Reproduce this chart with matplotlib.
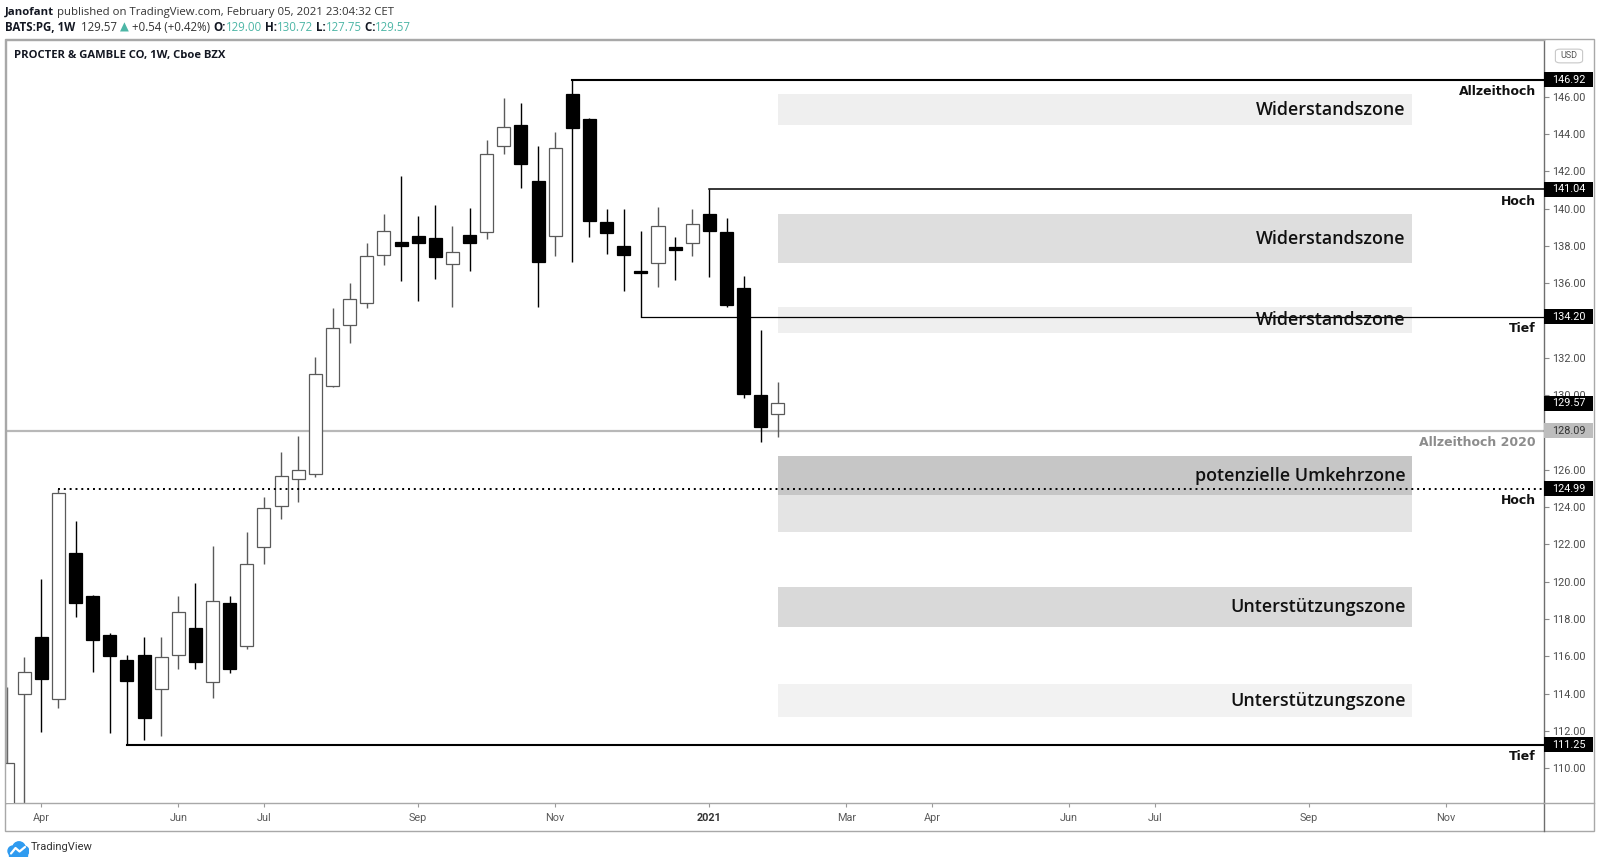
import numpy as np
import pandas as pd
import matplotlib
matplotlib.use("Agg")
import matplotlib.pyplot as plt
from matplotlib.patches import Rectangle, Circle, FancyBboxPatch
from matplotlib.lines import Line2D

# ---------------- data ----------------
first_week = "2020-03-23"          # weekly bars (Mondays)
opens  = [103.00, 113.97, 117.05, 113.69, 121.52, 119.24, 117.14, 115.80, 116.06, 114.22,
          116.06, 117.49, 114.62, 118.83, 116.56, 121.84, 124.07, 125.50, 125.77, 130.51,
          133.74, 134.96, 137.51, 138.23, 138.53, 138.44, 137.03, 138.58, 138.76, 143.36,
          144.48, 141.50, 138.55, 146.15, 144.79, 139.30, 138.01, 136.68, 137.07, 137.96,
          138.17, 139.69, 138.76, 135.73, 130.01, 129.00]
highs  = [114.37, 115.97, 120.12, 124.99, 123.27, 119.30, 117.26, 116.06, 117.05, 117.05,
          119.24, 119.94, 121.91, 119.24, 122.66, 124.55, 126.93, 127.81, 132.06, 134.69,
          136.03, 138.14, 139.71, 141.75, 139.60, 140.19, 139.08, 140.01, 143.68, 145.91,
          145.68, 143.36, 144.13, 146.92, 144.85, 139.96, 139.96, 138.80, 140.10, 138.50,
          139.96, 141.04, 139.48, 136.39, 133.49, 130.72]
lows   = [98.00, 106.00, 111.92, 113.20, 118.12, 115.17, 111.86, 111.25, 111.51, 111.74,
          115.29, 115.29, 113.78, 115.12, 116.37, 120.93, 123.37, 124.25, 125.59, 130.45,
          132.78, 134.69, 136.97, 136.14, 135.06, 136.21, 134.74, 136.67, 138.35, 142.93,
          141.09, 134.71, 137.48, 137.16, 138.50, 137.55, 135.60, 134.20, 135.78, 136.17,
          137.46, 136.31, 134.71, 129.83, 127.50, 127.75]
closes = [110.26, 115.13, 114.76, 124.73, 118.83, 116.87, 116.01, 114.69, 112.67, 115.97,
          118.39, 115.69, 118.98, 115.29, 120.93, 123.93, 125.68, 125.98, 131.13, 133.58,
          135.13, 137.46, 138.80, 137.99, 138.17, 137.39, 137.66, 138.14, 142.93, 144.39,
          142.39, 137.12, 143.23, 144.30, 139.33, 138.67, 137.51, 136.56, 139.07, 137.78,
          139.17, 138.82, 134.83, 130.06, 128.27, 129.57]

tick_dates  = ["2020-04-06", "2020-06-01", "2020-07-06", "2020-09-07", "2020-11-02", "2021-01-04",
               "2021-03-01", "2021-04-05", "2021-05-31", "2021-07-05", "2021-09-06", "2021-11-01"]
tick_labels = ["Apr", "Jun", "Jul", "Sep", "Nov", "2021", "Mar", "Apr", "Jun", "Jul", "Sep", "Nov"]
price_ticks = [110, 112, 114, 116, 118, 120, 122, 124, 126, 128, 130, 132, 134, 136, 138, 140,
               142, 144, 146]

level_prices = [146.92, 141.04, 134.20, 124.99, 111.25]
level_labels = ["Allzeithoch", "Hoch", "Tief", "Hoch", "Tief"]
level_starts = ["2020-11-09", "2021-01-04", "2020-12-07", "2020-04-13", "2020-05-11"]
ath2020_price = 128.09
ath2020_label = "Allzeithoch 2020"

zone_lo     = [144.46, 137.07, 133.35, 124.64, 122.68, 117.59, 112.72]
zone_hi     = [146.15, 139.69, 134.72, 126.73, 124.64, 119.73, 114.53]
zone_labels = ["Widerstandszone", "Widerstandszone", "Widerstandszone", "potenzielle Umkehrzone",
               "", "Unterstützungszone", "Unterstützungszone"]
zone_colors = ["#efefef", "#dedede", "#efefef", "#c6c6c6", "#e4e4e4", "#d9d9d9", "#f2f2f2"]
zone_start, zone_end = "2021-02-01", "2021-10-18"

last_price = 129.57
tag_prices = [146.92, 141.04, 134.20, 129.57, 124.99, 111.25]

# ---------------- helpers ----------------
t0 = pd.Timestamp(first_week)
def wk(d):
    return (pd.Timestamp(d) - t0).days / 7.0

W, H = 1600, 864
fig = plt.figure(figsize=(16, 8.64), dpi=100)
fig.patch.set_facecolor("white")
L, R, T, B = 6, 1544, 40, 803
ax = fig.add_axes([L / W, 1 - B / H, (R - L) / W, (B - T) / H])

XL = (-0.06, 89.72)
YL = (108.13, 149.04)

o = np.array(opens); h = np.array(highs); l = np.array(lows); c = np.array(closes)
x = np.arange(len(o))
up = c >= o
dn = ~up
bw = 0.76
ax.vlines(x[up], l[up], h[up], color="#5a5a5a", lw=1.0, zorder=2)
ax.vlines(x[dn], l[dn], h[dn], color="#000000", lw=1.0, zorder=2)
ax.bar(x[up], (c - o)[up], bottom=o[up], width=bw, facecolor="white", edgecolor="#5a5a5a",
       lw=0.9, zorder=3)
ax.bar(x[dn], (o - c)[dn], bottom=c[dn], width=bw, facecolor="black", edgecolor="black",
       lw=0.9, zorder=3)

# zones
zx0, zx1 = wk(zone_start), wk(zone_end)
for lo, hi, col in zip(zone_lo, zone_hi, zone_colors):
    ax.add_patch(Rectangle((zx0, lo), zx1 - zx0, hi - lo, facecolor=col, edgecolor="none", zorder=1))
for lo, hi, lab in zip(zone_lo, zone_hi, zone_labels):
    if lab:
        ax.text(zx1 - 0.35, (lo + hi) / 2, lab, ha="right", va="center", fontsize=12.9,
                family="Open Sans", fontweight="semibold", color="#111111", zorder=6)

# level lines
xr = XL[1] + 5
lw_lines = [1.5, 1.1, 0.9, 1.4, 1.5]
for p, s, lw in zip(level_prices, level_starts, lw_lines):
    if p == 124.99:
        ax.plot([wk(s), xr], [p, p], color="black", lw=lw, ls=(0, (1, 2)), zorder=4)
    else:
        ax.plot([wk(s), xr], [p, p], color="black", lw=lw, zorder=4)
ax.plot([XL[0] - 5, xr], [ath2020_price, ath2020_price], color="#b8b8b8", lw=1.6, zorder=1.5)

ytr = ax.get_yaxis_transform()
for p, lab in zip(level_prices, level_labels):
    ax.annotate(lab, xy=(0.9948, p), xycoords=ytr, xytext=(0, -8.6), textcoords="offset points",
                ha="right", va="center", fontsize=9, fontweight="bold", family="DejaVu Sans",
                color="#111111", zorder=6)
ax.annotate(ath2020_label, xy=(0.9948, ath2020_price), xycoords=ytr, xytext=(0, -8.4),
            textcoords="offset points", ha="right", va="center", fontsize=9, fontweight="bold",
            family="DejaVu Sans", color="#8c8c8c", zorder=6)

ax.set_xlim(*XL)
ax.set_ylim(*YL)

# axes styling
for sp in ["left", "top", "bottom"]:
    ax.spines[sp].set_color("#a8a8a8")
    ax.spines[sp].set_linewidth(1.0)
ax.spines["right"].set_color("#6e6e6e")
ax.spines["right"].set_linewidth(1.0)
ax.yaxis.tick_right()
ax.set_yticks(price_ticks)
# the 134.00 label sits fully behind the 134.20 price tag in the reference
ax.set_yticklabels(["" if v == 134 else f"{v:.2f}" for v in price_ticks])
ax.tick_params(axis="y", length=3.5, width=0.8, color="#8a8a8a", pad=2.5, labelsize=7.8,
               labelcolor="#4a4a4a")
for lbl in ax.get_yticklabels():
    lbl.set_family("Roboto")
ax.set_xticks([wk(d) for d in tick_dates])
ax.set_xticklabels(tick_labels)
ax.tick_params(axis="x", length=3, width=0.8, color="#9a9a9a", pad=4.5, labelsize=7.8,
               labelcolor="#5a5a5a")
for lbl in ax.get_xticklabels():
    lbl.set_family("Roboto")
    if lbl.get_text() == "2021":
        lbl.set_fontweight("bold")
        lbl.set_color("#333333")

# price tags
tag_w = 49 / (R - L)
tag_h = 7.6 / 18.65
for p in tag_prices:
    ax.add_patch(Rectangle((1.0, p - tag_h), tag_w, 2 * tag_h, transform=ytr, facecolor="black",
                           edgecolor="none", clip_on=False, zorder=10))
    ax.text(1.0054, p, f"{p:.2f}", transform=ytr, ha="left", va="center", fontsize=7.8,
            family="Roboto", color="white", clip_on=False, zorder=11)
ax.add_patch(Rectangle((1.0, ath2020_price - tag_h), tag_w, 2 * tag_h, transform=ytr,
                       facecolor="#bdbdbd", edgecolor="none", clip_on=False, zorder=10))
ax.text(1.0054, ath2020_price, f"{ath2020_price:.2f}", transform=ytr, ha="left", va="center",
        fontsize=7.8, family="Roboto", color="#333333", clip_on=False, zorder=11)

# USD box
fig.patches.append(FancyBboxPatch((1557 / W, 1 - 62 / H), 24 / W, 12 / H,
                                  boxstyle="round,pad=0.001,rounding_size=0.003",
                                  transform=fig.transFigure, facecolor="white",
                                  edgecolor="#c8c8c8", lw=0.8))
fig.text(1569 / W, 1 - 55.5 / H, "USD", ha="center", va="center", fontsize=6.5,
         family="Roboto", color="#555555")

# outer frame and separators
fig.patches.append(Rectangle((5 / W, 1 - 831 / H), 1589 / W, 792 / H, transform=fig.transFigure,
                             fill=False, edgecolor="#a8a8a8", lw=1.0))
fig.lines.append(Line2D([1544 / W, 1544 / W], [1 - 831 / H, 1 - 803 / H],
                        transform=fig.transFigure, color="#6e6e6e", lw=1.0))
fig.lines.append(Line2D([1544 / W, 1594 / W], [1 - 803 / H, 1 - 803 / H],
                        transform=fig.transFigure, color="#a8a8a8", lw=1.0))

# title inside chart
fig.text(14 / W, 1 - 55.5 / H, "PROCTER & GAMBLE CO, 1W, Cboe BZX", ha="left", va="center",
         fontsize=8.1, fontweight="bold", family="Open Sans", color="#131722")

# header lines
def chain(xp, yp, parts, size):
    t = fig.text(xp, yp, parts[0][0], color=parts[0][1], fontweight=parts[0][2], fontsize=size,
                 family=["Open Sans", "DejaVu Sans"], ha="left", va="center")
    for s, col, w in parts[1:]:
        t = ax.annotate(s, xy=(1, 0), xycoords=t, color=col, fontweight=w, fontsize=size,
                        family=["Open Sans", "DejaVu Sans"], ha="left", va="bottom",
                        annotation_clip=False)
    return t

teal = "#4db6a6"
dark = "#131722"
chain(5 / W, 1 - 12 / H, [("Janofant", dark, "bold"),
                          (" published on TradingView.com, February 05, 2021 23:04:32 CET", "#333333", "normal")], 8.2)
chain(5 / W, 1 - 27.5 / H, [("BATS:PG, 1W", dark, "bold"),
                          (f"  {last_price:.2f} ", "#333333", "normal"),
                          ("▲", teal, "normal"),
                          (" +0.54 (+0.42%) ", "#333333", "normal"),
                          ("O:", dark, "bold"), ("129.00", teal, "normal"),
                          (" H:", dark, "bold"), ("130.72", teal, "normal"),
                          (" L:", dark, "bold"), ("127.75", teal, "normal"),
                          (" C:", dark, "bold"), ("129.57", teal, "normal")], 8.3)

# TradingView logo at bottom
lax = fig.add_axes([7 / W, 1 - 857 / H, 22 / W, 16 / H])
lax.set_xlim(0, 22); lax.set_ylim(0, 16); lax.axis("off")
blue = "#2f9bf0"
for cx, cy, r in [(6, 6, 5), (12, 9, 6.2), (17, 6, 4.8)]:
    lax.add_patch(Circle((cx, cy), r, color=blue))
lax.add_patch(Rectangle((2, 1), 18, 5, color=blue))
lax.plot([4, 8.5, 12.5, 18], [3.5, 9, 5.5, 10], color="white", lw=1.6, solid_capstyle="round")
fig.text(30.5 / W, 1 - 847 / H, "TradingView", ha="left", va="center", fontsize=8,
         family="Roboto", color="#333333")

fig.savefig("out.png", dpi=100, facecolor="white")
